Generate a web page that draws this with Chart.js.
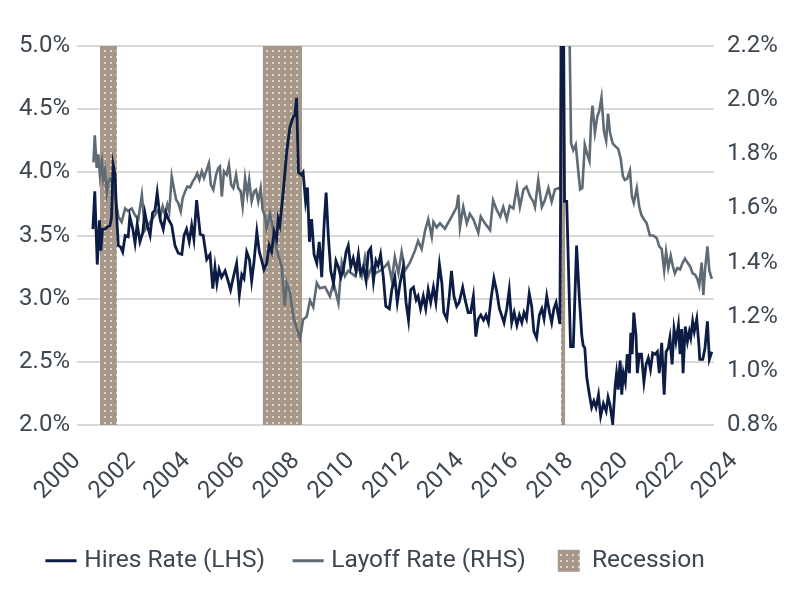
<!DOCTYPE html>
<html>
<head>
<meta charset="utf-8">
<script src="https://cdn.jsdelivr.net/npm/chart.js@4.4.0/dist/chart.umd.min.js"></script>
<style>
  html, body { margin: 0; padding: 0; background: #fff; }
</style>
</head>
<body>
<canvas id="jolts-chart" width="800" height="600"></canvas>
<script>
// --- Data (decimal years as drawn on the axis) ---
const yearTicks = [2000, 2002, 2004, 2006, 2008, 2010, 2012, 2014, 2016, 2018, 2020, 2022, 2024];

const hiresDates = [
  2000.58, 2000.65, 2000.74, 2000.82, 2000.87, 2000.93, 2001.02,
  2001.13, 2001.21, 2001.26, 2001.32, 2001.39, 2001.45, 2001.51, 2001.59, 2001.67, 2001.76, 2001.87, 2001.93,
  2002.04, 2002.12, 2002.20, 2002.30, 2002.40, 2002.48, 2002.57, 2002.67, 2002.76, 2002.85, 2002.93,
  2003.04, 2003.15, 2003.25, 2003.34, 2003.46, 2003.58, 2003.70, 2003.83, 2003.91,
  2004.00, 2004.10, 2004.19, 2004.27, 2004.37, 2004.50, 2004.61, 2004.74, 2004.86,
  2004.96, 2005.04, 2005.11, 2005.19, 2005.28, 2005.41, 2005.52, 2005.61, 2005.71, 2005.83,
  2005.93, 2006.02, 2006.10, 2006.20, 2006.30, 2006.38, 2006.46, 2006.57, 2006.66, 2006.74, 2006.83,
  2006.93, 2007.02, 2007.11, 2007.20, 2007.29, 2007.35, 2007.41, 2007.54, 2007.66, 2007.78,
  2007.90, 2007.96, 2008.02, 2008.09, 2008.20, 2008.26, 2008.35, 2008.42, 2008.49, 2008.57, 2008.66, 2008.76,
  2008.85, 2008.94, 2009.03, 2009.10, 2009.18, 2009.27, 2009.37, 2009.46, 2009.55, 2009.64, 2009.72,
  2009.83, 2009.91, 2010.00, 2010.09, 2010.19, 2010.28, 2010.36, 2010.46, 2010.56, 2010.64,
  2010.73, 2010.83, 2010.92, 2011.00, 2011.09, 2011.19, 2011.28, 2011.41, 2011.50, 2011.61,
  2011.70, 2011.80, 2011.92, 2012.02, 2012.11, 2012.19, 2012.29, 2012.39, 2012.46, 2012.55, 2012.65,
  2012.74, 2012.83, 2012.92, 2013.02, 2013.11, 2013.24, 2013.33, 2013.40, 2013.51, 2013.60,
  2013.68, 2013.77, 2013.87, 2013.96, 2014.09, 2014.18, 2014.29, 2014.38, 2014.48, 2014.57,
  2014.66, 2014.75, 2014.85, 2014.94, 2015.03, 2015.12, 2015.23, 2015.33, 2015.43, 2015.51,
  2015.60, 2015.70, 2015.79, 2015.88, 2015.97, 2016.07, 2016.16, 2016.25, 2016.33, 2016.42, 2016.52,
  2016.61, 2016.69, 2016.79, 2016.89, 2016.98, 2017.06, 2017.16, 2017.26, 2017.34, 2017.42,
  2017.50, 2017.58, 2017.64, 2017.74, 2017.81, 2017.89, 2018.03, 2018.13, 2018.25, 2018.35, 2018.44,
  2018.49, 2018.55, 2018.62, 2018.72, 2018.80, 2018.88, 2018.96, 2019.05, 2019.13, 2019.23, 2019.33, 2019.40,
  2019.47, 2019.57, 2019.66, 2019.71, 2019.77, 2019.84, 2019.90, 2019.96, 2020.03, 2020.10, 2020.18, 2020.23, 2020.28, 2020.34,
  2020.42, 2020.47, 2020.54, 2020.62, 2020.71, 2020.79, 2020.87, 2020.95, 2021.03, 2021.12, 2021.20, 2021.27, 2021.36,
  2021.45, 2021.52, 2021.60, 2021.66, 2021.74, 2021.81, 2021.88, 2021.97, 2022.03, 2022.09, 2022.14, 2022.22, 2022.30,
  2022.37, 2022.42, 2022.49, 2022.55, 2022.64, 2022.72, 2022.75, 2022.86, 2022.94, 2023.03, 2023.10, 2023.19
];
const hiresRate = [
  3.55, 3.85, 3.27, 3.62, 3.38, 3.55, 3.55,
  3.57, 3.58, 3.64, 4.06, 3.98, 3.65, 3.42, 3.41, 3.37, 3.50, 3.49, 3.65,
  3.55, 3.44, 3.59, 3.45, 3.52, 3.68, 3.58, 3.50, 3.68, 3.70, 3.84,
  3.63, 3.55, 3.68, 3.63, 3.58, 3.42, 3.36, 3.35, 3.50,
  3.55, 3.45, 3.58, 3.47, 3.78, 3.51, 3.50, 3.31, 3.35,
  3.08, 3.25, 3.12, 3.23, 3.17, 3.22, 3.14, 3.07, 3.17, 3.28,
  3.03, 3.19, 3.16, 3.37, 3.31, 3.14, 3.28, 3.53, 3.37, 3.31, 3.23,
  3.28, 3.42, 3.37, 3.53, 3.47, 3.63, 3.58, 3.86, 4.16, 4.36,
  4.44, 4.45, 4.59, 4.00, 3.98, 4.00, 3.77, 3.88, 3.45, 3.63, 3.35, 3.28,
  3.45, 3.17, 3.60, 3.84, 3.50, 3.22, 3.12, 3.30, 3.25, 3.17, 3.22,
  3.37, 3.42, 3.25, 3.32, 3.22, 3.35, 3.20, 3.25, 3.14, 3.37,
  3.40, 3.14, 3.30, 3.26, 3.35, 3.17, 2.94, 2.92, 3.07, 3.17,
  2.97, 3.12, 3.25, 2.97, 2.83, 3.07, 3.09, 2.99, 3.02, 2.92, 3.02,
  2.92, 3.07, 2.97, 3.09, 2.97, 3.27, 3.12, 2.89, 2.84, 3.02,
  3.22, 3.02, 2.94, 2.97, 3.09, 2.99, 2.89, 2.89, 3.02, 2.70,
  2.84, 2.87, 2.83, 2.87, 2.81, 2.99, 3.16, 3.06, 2.92, 2.87,
  2.81, 2.92, 3.07, 2.81, 2.89, 2.79, 2.87, 2.81, 2.89, 2.84, 3.04,
  2.94, 2.74, 2.69, 2.87, 2.92, 2.84, 3.02, 2.89, 2.81, 2.92,
  2.97, 2.87, 2.80, 6.50, 3.77, 3.77, 2.62, 2.62, 3.42, 3.01, 2.71,
  2.63, 2.61, 2.38, 2.24, 2.14, 2.19, 2.14, 2.24, 2.07, 2.17, 2.11, 2.22,
  2.16, 2.01, 2.31, 2.41, 2.28, 2.51, 2.24, 2.41, 2.34, 2.56, 2.41, 2.73, 2.56, 2.89,
  2.71, 2.41, 2.56, 2.56, 2.34, 2.48, 2.53, 2.44, 2.57, 2.56, 2.58, 2.41, 2.65,
  2.24, 2.58, 2.61, 2.69, 2.48, 2.76, 2.66, 2.79, 2.56, 2.76, 2.41, 2.78, 2.66,
  2.74, 2.69, 2.82, 2.74, 2.84, 2.63, 2.52, 2.52, 2.61, 2.82, 2.52, 2.58
];

const layoffDates = [
  2000.60, 2000.65, 2000.72, 2000.78, 2000.84, 2000.91, 2000.96, 2001.02,
  2001.09, 2001.15, 2001.21, 2001.26, 2001.33, 2001.41, 2001.51, 2001.63, 2001.76, 2001.87, 2002.00,
  2002.12, 2002.24, 2002.37, 2002.48, 2002.61, 2002.78, 2002.97,
  2003.03, 2003.13, 2003.21, 2003.30, 2003.37, 2003.46, 2003.54, 2003.62, 2003.70, 2003.79, 2003.86, 2003.95,
  2004.03, 2004.13, 2004.23, 2004.31, 2004.39, 2004.47, 2004.56, 2004.64, 2004.74, 2004.82, 2004.89, 2004.98,
  2005.08, 2005.16, 2005.22, 2005.29, 2005.37, 2005.47, 2005.55, 2005.63, 2005.71, 2005.81, 2005.89, 2005.98,
  2006.05, 2006.14, 2006.22, 2006.29, 2006.38, 2006.47, 2006.54, 2006.62, 2006.71, 2006.78, 2006.87,
  2006.93, 2007.05, 2007.17, 2007.29, 2007.48, 2007.59, 2007.66, 2007.78,
  2007.90, 2008.02, 2008.15, 2008.26, 2008.39, 2008.51, 2008.63, 2008.76,
  2008.87, 2009.06, 2009.24, 2009.37, 2009.55, 2009.67,
  2009.79, 2009.91, 2010.03, 2010.16, 2010.28, 2010.40, 2010.52, 2010.64,
  2010.77, 2010.89, 2011.07, 2011.25, 2011.37, 2011.50, 2011.61,
  2011.74, 2011.86, 2011.98, 2012.16, 2012.35, 2012.46, 2012.59,
  2012.72, 2012.83, 2012.96, 2013.02, 2013.14, 2013.26, 2013.44,
  2013.63, 2013.74, 2013.87, 2013.93, 2013.99, 2014.11, 2014.24, 2014.35, 2014.48,
  2014.66, 2014.75, 2014.90, 2015.09, 2015.20, 2015.33, 2015.46,
  2015.57, 2015.70, 2015.81, 2015.94, 2016.07, 2016.18, 2016.31, 2016.42,
  2016.55, 2016.67, 2016.73, 2016.85, 2016.98, 2017.09, 2017.22, 2017.34, 2017.46,
  2017.58, 2017.66, 2017.75, 2017.87, 2017.97, 2018.05, 2018.13, 2018.22, 2018.31, 2018.38, 2018.46,
  2018.55, 2018.64, 2018.72, 2018.78, 2018.83, 2018.92, 2019.01, 2019.08, 2019.16, 2019.25, 2019.33, 2019.40,
  2019.47, 2019.57, 2019.66, 2019.77, 2019.86, 2019.94, 2020.01, 2020.10, 2020.20, 2020.27, 2020.34,
  2020.45, 2020.54, 2020.62, 2020.71, 2020.81, 2020.93, 2021.05, 2021.18, 2021.27, 2021.36,
  2021.45, 2021.52, 2021.60, 2021.69, 2021.76, 2021.84, 2021.93, 2022.03, 2022.13, 2022.21, 2022.30,
  2022.40, 2022.49, 2022.58, 2022.66, 2022.73, 2022.82, 2022.88, 2022.94, 2023.03, 2023.10, 2023.19
];
const layoffRate = [
  1.77, 1.87, 1.75, 1.80, 1.72, 1.77, 1.71, 1.74,
  1.66, 1.70, 1.71, 1.70, 1.68, 1.63, 1.57, 1.55, 1.60, 1.59, 1.60,
  1.575, 1.56, 1.65, 1.52, 1.54, 1.565, 1.595,
  1.564, 1.607, 1.577, 1.614, 1.589, 1.718, 1.675, 1.632, 1.620, 1.589, 1.638, 1.663,
  1.681, 1.678, 1.700, 1.712, 1.730, 1.706, 1.737, 1.712, 1.743, 1.767, 1.687, 1.669,
  1.724, 1.749, 1.755, 1.644, 1.737, 1.724, 1.761, 1.687, 1.675, 1.724, 1.675, 1.663,
  1.607, 1.712, 1.650, 1.706, 1.626, 1.663, 1.669, 1.626, 1.675, 1.595, 1.571,
  1.53, 1.58, 1.52, 1.45, 1.385, 1.24, 1.325, 1.29,
  1.20, 1.16, 1.12, 1.19, 1.20, 1.26, 1.235, 1.325,
  1.305, 1.31, 1.275, 1.325, 1.25, 1.40,
  1.35, 1.37, 1.36, 1.35, 1.385, 1.35, 1.42, 1.35,
  1.385, 1.36, 1.37, 1.385, 1.40, 1.335, 1.42,
  1.36, 1.44, 1.37, 1.40, 1.445, 1.48, 1.45,
  1.52, 1.56, 1.495, 1.55, 1.53, 1.545, 1.525,
  1.56, 1.58, 1.605, 1.65, 1.53, 1.605, 1.545, 1.58, 1.56,
  1.51, 1.57, 1.545, 1.52, 1.63, 1.595, 1.57,
  1.605, 1.56, 1.61, 1.60, 1.68, 1.605, 1.67, 1.68,
  1.645, 1.625, 1.605, 1.705, 1.605, 1.63, 1.675, 1.625, 1.67,
  1.675, 1.67, 7.50, 5.90, 2.40, 1.84, 1.815, 1.835, 1.74, 1.67, 1.675,
  1.835, 1.80, 1.775, 1.92, 1.98, 1.88, 1.94, 1.96, 2.01, 1.885, 1.85, 1.95,
  1.88, 1.84, 1.83, 1.82, 1.785, 1.72, 1.705, 1.71, 1.74, 1.645, 1.62,
  1.675, 1.605, 1.575, 1.56, 1.545, 1.50, 1.50, 1.49, 1.46, 1.45,
  1.37, 1.44, 1.38, 1.425, 1.39, 1.36, 1.38, 1.375, 1.40, 1.415, 1.40,
  1.385, 1.36, 1.355, 1.34, 1.315, 1.40, 1.28, 1.37, 1.46, 1.37, 1.34
];

const recessionStart = [2000.84, 2006.79, 2017.68];
const recessionEnd = [2001.46, 2008.22, 2017.83];

// --- Estilos ---
const textColor = '#3d4751';
const hiresColor = '#0c1c44';
const layoffColor = '#5f6b74';
const gridColor = '#d9d9d9';

Chart.defaults.font.family = 'Roboto';
Chart.defaults.color = textColor;

const toPoints = (xs, ys) => xs.map((x, i) => ({ x, y: ys[i] }));

function makeRecessionPattern() {
  const c = document.createElement('canvas');
  c.width = 6;
  c.height = 6;
  const g = c.getContext('2d');
  g.fillStyle = '#a69789';
  g.fillRect(0, 0, 6, 6);
  g.fillStyle = '#ddd5cc';
  g.fillRect(2, 2, 2, 2);
  return g.createPattern(c, 'repeat');
}
const recessionPattern = makeRecessionPattern();

// shaded bands behind the lines, positioned by the x scale
const recessionBands = {
  id: 'recessionBands',
  beforeDatasetsDraw(chart) {
    const { ctx, chartArea, scales: { x } } = chart;
    ctx.save();
    ctx.fillStyle = recessionPattern;
    recessionStart.forEach((s, i) => {
      const x0 = x.getPixelForValue(s);
      const x1 = x.getPixelForValue(recessionEnd[i]);
      ctx.fillRect(x0, chartArea.top, x1 - x0, chartArea.bottom - chartArea.top);
    });
    ctx.restore();
  }
};

const pct = (v) => Number(v).toFixed(1) + '%';

new Chart(document.getElementById('jolts-chart'), {
  type: 'line',
  data: {
    datasets: [
      {
        label: 'Hires Rate (LHS)',
        data: toPoints(hiresDates, hiresRate),
        yAxisID: 'y',
        borderColor: hiresColor,
        borderWidth: 2.8,
        pointRadius: 0,
        tension: 0
      },
      {
        label: 'Layoff Rate (RHS)',
        data: toPoints(layoffDates, layoffRate),
        yAxisID: 'y1',
        borderColor: layoffColor,
        borderWidth: 2.6,
        pointRadius: 0,
        tension: 0
      }
    ]
  },
  options: {
    responsive: false,
    animation: false,
    devicePixelRatio: 1,
    layout: { padding: { left: 18, right: 0, top: 46, bottom: 17 } },
    plugins: {
      tooltip: { enabled: false },
      legend: {
        position: 'bottom',
        align: 'start',
        labels: {
          usePointStyle: true,
          boxWidth: 22,
          boxHeight: 22,
          padding: 32,
          font: { size: 24.5 },
          generateLabels: () => [
            { text: 'Hires Rate (LHS)', pointStyle: 'line', strokeStyle: hiresColor, fillStyle: hiresColor, lineWidth: 3, fontColor: textColor },
            { text: 'Layoff Rate (RHS)', pointStyle: 'line', strokeStyle: layoffColor, fillStyle: layoffColor, lineWidth: 3, fontColor: textColor },
            { text: 'Recession', pointStyle: 'rect', fillStyle: recessionPattern, strokeStyle: 'rgba(0,0,0,0)', lineWidth: 0, fontColor: textColor }
          ]
        }
      }
    },
    scales: {
      x: {
        type: 'linear',
        min: 2000,
        max: 2023.27,
        grid: { display: false, drawTicks: false },
        border: { display: false },
        afterBuildTicks: (s) => { s.ticks = yearTicks.map(v => ({ value: v })); },
        afterFit: (s) => { s.height = 91.5; },
        ticks: {
          autoSkip: false,
          minRotation: 45,
          maxRotation: 45,
          padding: 22,
          font: { size: 24 },
          callback: (v) => String(v)
        }
      },
      y: {
        position: 'left',
        min: 2,
        max: 5,
        grid: { color: gridColor, lineWidth: 2, drawTicks: false },
        border: { display: false },
        afterFit: (s) => { s.width = 59; },
        ticks: { stepSize: 0.5, padding: 7, font: { size: 24 }, callback: pct }
      },
      y1: {
        position: 'right',
        min: 0.8,
        max: 2.2,
        grid: { display: false, drawTicks: false },
        border: { display: false },
        afterFit: (s) => { s.width = 86; },
        ticks: { stepSize: 0.2, padding: 13, font: { size: 24 }, callback: pct }
      }
    }
  },
  plugins: [recessionBands]
});
</script>
</body>
</html>
